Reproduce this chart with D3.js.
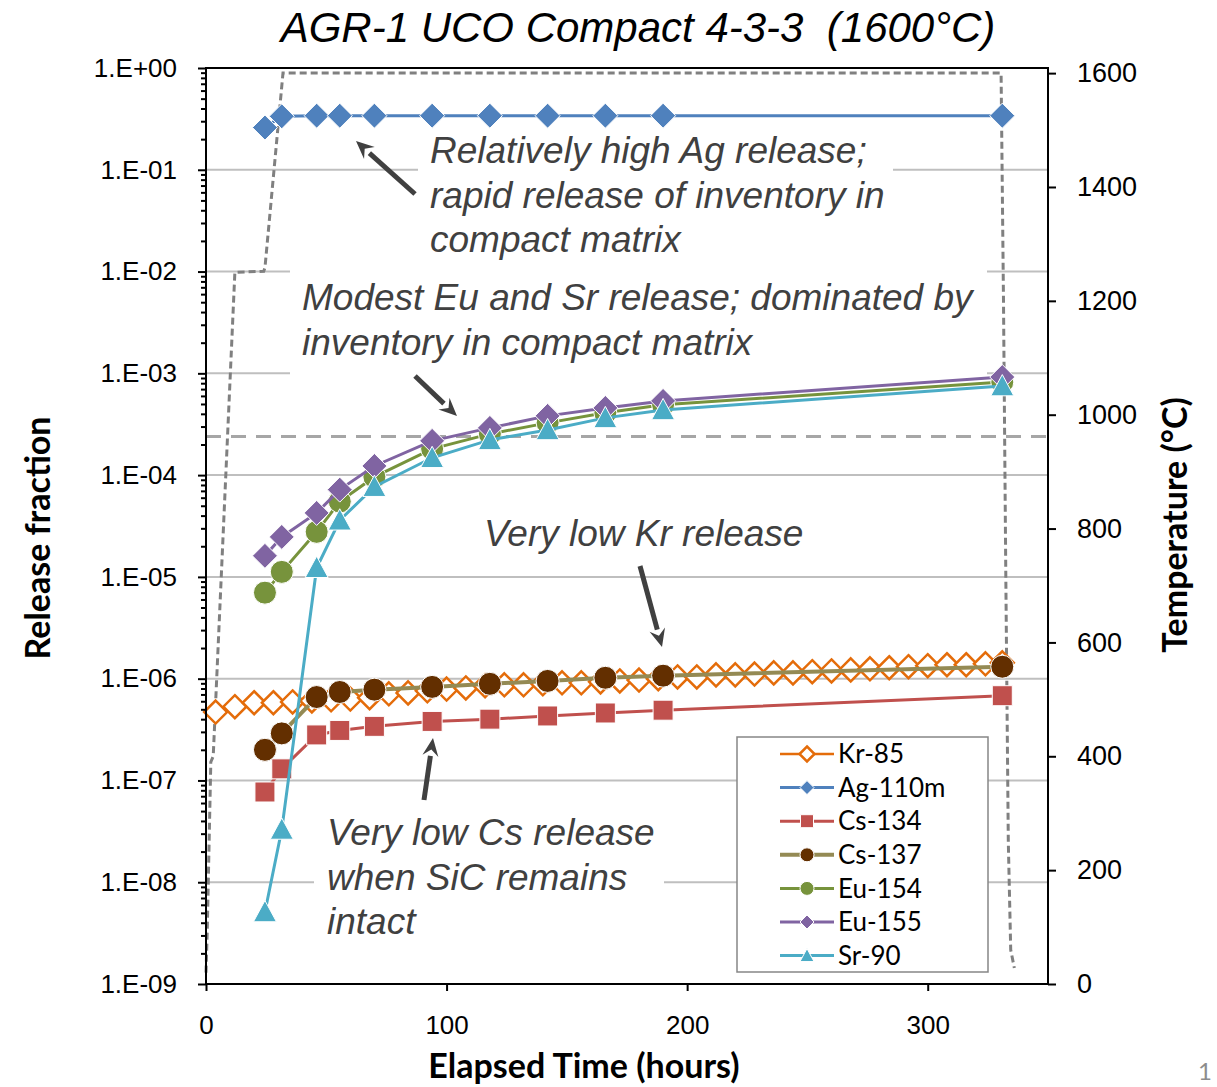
<!DOCTYPE html>
<html>
<head>
<meta charset="utf-8">
<script src="https://cdn.jsdelivr.net/npm/d3@7"></script>
<style>
  html, body { margin: 0; padding: 0; background: #fff; }
  svg { display: block; }
</style>
</head>
<body>
<div id="chart"></div>
<script>
// ---- data ----
const sampleHours = [24.5, 31.5, 46, 55.6, 70, 94, 118, 142, 166, 190, 331];
const ag110m = [0.26, 0.335, 0.34, 0.34, 0.34, 0.34, 0.34, 0.34, 0.34, 0.34, 0.34];
const cs134 = [7.7e-8, 1.3e-7, 2.8e-7, 3.1e-7, 3.4e-7, 3.8e-7, 4.0e-7, 4.3e-7, 4.6e-7, 4.9e-7, 6.8e-7];
const cs137 = [2.0e-7, 2.9e-7, 6.6e-7, 7.4e-7, 7.8e-7, 8.3e-7, 8.9e-7, 9.5e-7, 1.02e-6, 1.07e-6, 1.31e-6];
const eu154 = [7.0e-6, 1.12e-5, 2.77e-5, 5.5e-5, 9.6e-5, 1.81e-4, 2.54e-4, 3.26e-4, 4.09e-4, 4.9e-4, 8.2e-4];
const eu155 = [1.61e-5, 2.47e-5, 4.25e-5, 7.2e-5, 1.23e-4, 2.17e-4, 2.91e-4, 3.82e-4, 4.57e-4, 5.36e-4, 9.2e-4];
const sr90 = [5.1e-9, 3.3e-8, 1.23e-5, 3.6e-5, 7.7e-5, 1.48e-4, 2.22e-4, 2.78e-4, 3.65e-4, 4.37e-4, 7.5e-4];

const krHours = [4, 12, 20, 28, 36, 44, 52, 60, 68, 76, 84, 92, 100, 108, 116, 124, 132, 140, 148, 156,
  164, 172, 180, 188, 196, 204, 212, 220, 228, 236, 244, 252, 260, 268, 276, 284, 292, 300, 308, 316, 324, 331];
const kr85 = [4.7e-7, 5.3e-7, 5.8e-7, 5.8e-7, 5.9e-7, 6.05e-7, 6.2e-7, 6.3e-7, 6.5e-7, 7.1e-7, 7.25e-7, 7.6e-7,
  7.9e-7, 8.1e-7, 8.5e-7, 8.7e-7, 8.7e-7, 8.9e-7, 9.1e-7, 9.1e-7, 9.3e-7, 9.5e-7, 9.7e-7, 1.0e-6, 1.04e-6,
  1.04e-6, 1.09e-6, 1.09e-6, 1.11e-6, 1.14e-6, 1.14e-6, 1.17e-6, 1.19e-6, 1.22e-6, 1.25e-6, 1.28e-6, 1.31e-6,
  1.34e-6, 1.37e-6, 1.37e-6, 1.4e-6, 1.43e-6];

const tempHours = [0, 0.5, 2, 3, 12, 24, 24.5, 32, 330.5, 331.5, 332.5, 333.5, 334.5, 336];
const tempC = [20, 90, 390, 400, 1250, 1252, 1258, 1600, 1600, 1200, 700, 250, 60, 28];

const refFraction = 2.4e-4;

const leftTicks = [1, 1e-1, 1e-2, 1e-3, 1e-4, 1e-5, 1e-6, 1e-7, 1e-8, 1e-9];
const leftTickLabels = ['1.E+00', '1.E-01', '1.E-02', '1.E-03', '1.E-04', '1.E-05', '1.E-06', '1.E-07', '1.E-08', '1.E-09'];
const rightTicks = [0, 200, 400, 600, 800, 1000, 1200, 1400, 1600];
const bottomTicks = [0, 100, 200, 300];

// ---- layout ----
const W = 1217, H = 1087;
const plot = { left: 206, right: 1048, top: 68, bottom: 984 };
const armFont = '"Liberation Sans", Arial, sans-serif';
const calFont = 'Lato, "Open Sans", sans-serif';

const svg = d3.select('#chart').append('svg').attr('width', W).attr('height', H);

const x = d3.scaleLinear().domain([0, 350]).range([plot.left, plot.right]);
const y = d3.scaleLog().domain([1e-9, 1]).range([plot.bottom, plot.top]);
const yT = d3.scaleLinear().domain([0, 1609]).range([plot.bottom, plot.top]);

// gridlines at each decade
svg.append('g')
  .selectAll('line')
  .data(leftTicks.slice(1, -1))
  .join('line')
  .attr('x1', plot.left).attr('x2', plot.right)
  .attr('y1', d => y(d)).attr('y2', d => y(d))
  .attr('stroke', '#BFBFBF').attr('stroke-width', 2);

// white text boxes (they hide gridlines like in the slide)
const boxes = [
  [418, 128, 475, 137],
  [290, 266, 697, 112],
  [476, 508, 334, 52],
  [314, 808, 350, 142]
];
svg.append('g').selectAll('rect').data(boxes).join('rect')
  .attr('x', d => d[0]).attr('y', d => d[1]).attr('width', d => d[2]).attr('height', d => d[3])
  .attr('fill', '#fff');

// reference dashed line
svg.append('line')
  .attr('x1', plot.left).attr('x2', plot.right)
  .attr('y1', y(refFraction)).attr('y2', y(refFraction))
  .attr('stroke', '#A6A6A6').attr('stroke-width', 3).attr('stroke-dasharray', '15,10');

// temperature trace
const tempLine = d3.line().x(d => x(d[0])).y(d => yT(d[1]));
svg.append('path')
  .datum(tempHours.map((t, i) => [t, tempC[i]]))
  .attr('d', tempLine)
  .attr('fill', 'none').attr('stroke', '#808080').attr('stroke-width', 3)
  .attr('stroke-dasharray', '7,4');

// marker shapes
function markerPath(shape, s) {
  const r = s / 2;
  if (shape === 'diamond') return `M0,${-r}L${r},0L0,${r}L${-r},0Z`;
  if (shape === 'square') return `M${-r},${-r}H${r}V${r}H${-r}Z`;
  if (shape === 'triangle') return `M0,${-r}L${r},${r * 0.85}L${-r},${r * 0.85}Z`;
  return d3.symbol(d3.symbolCircle, Math.PI * r * r)();
}

const series = [
  { name: 'Kr-85', t: krHours, v: kr85, line: '#E46C0A', fill: '#fff', stroke: '#E46C0A', sw: 2.5, shape: 'diamond', size: 23, lw: 2.5, lsize: 15 },
  { name: 'Ag-110m', t: sampleHours, v: ag110m, line: '#4F81BD', fill: '#4F81BD', stroke: '#fff', sw: 1, shape: 'diamond', size: 25, lw: 3, lsize: 14 },
  { name: 'Cs-134', t: sampleHours, v: cs134, line: '#C0504D', fill: '#C0504D', stroke: '#fff', sw: 1, shape: 'square', size: 20, lw: 3, lsize: 13 },
  { name: 'Cs-137', t: sampleHours, v: cs137, line: '#948A54', fill: '#632F00', stroke: '#fff', sw: 1, shape: 'circle', size: 23, lw: 4, lsize: 14 },
  { name: 'Eu-154', t: sampleHours, v: eu154, line: '#77933C', fill: '#77933C', stroke: '#fff', sw: 1, shape: 'circle', size: 23, lw: 3, lsize: 14 },
  { name: 'Eu-155', t: sampleHours, v: eu155, line: '#8064A2', fill: '#8064A2', stroke: '#fff', sw: 1, shape: 'diamond', size: 25, lw: 3, lsize: 14 },
  { name: 'Sr-90', t: sampleHours, v: sr90, line: '#4BACC6', fill: '#4BACC6', stroke: '#fff', sw: 1, shape: 'triangle', size: 23, lw: 3, lsize: 14 }
];

const valueLine = d3.line().x(d => x(d[0])).y(d => y(d[1]));
series.forEach(s => {
  const pts = s.t.map((t, i) => [t, s.v[i]]);
  const g = svg.append('g').attr('class', 'series');
  g.append('path').datum(pts).attr('d', valueLine)
    .attr('fill', 'none').attr('stroke', s.line).attr('stroke-width', s.lw);
  g.selectAll('path.m').data(pts).join('path').attr('class', 'm')
    .attr('transform', d => `translate(${x(d[0])},${y(d[1])})`)
    .attr('d', markerPath(s.shape, s.size))
    .attr('fill', s.fill).attr('stroke', s.stroke).attr('stroke-width', s.sw);
});

// plot frame
svg.append('rect')
  .attr('x', plot.left).attr('y', plot.top)
  .attr('width', plot.right - plot.left).attr('height', plot.bottom - plot.top)
  .attr('fill', 'none').attr('stroke', '#000').attr('stroke-width', 2);

// axes
function styleAxis(g, size = 26) {
  g.select('.domain').remove();
  g.selectAll('.tick line').attr('stroke', '#000').attr('stroke-width', 2);
  g.selectAll('text').attr('font-family', armFont).attr('font-size', size).attr('fill', '#000');
}

const minorTicks = [];
for (let e = -9; e < 0; e++) for (let m = 2; m <= 9; m++) minorTicks.push(m * Math.pow(10, e));

svg.append('g').attr('transform', `translate(${plot.left},0)`)
  .call(d3.axisLeft(y).tickValues(minorTicks).tickSize(5).tickFormat(''))
  .call(styleAxis);
svg.append('g').attr('transform', `translate(${plot.left},0)`)
  .call(d3.axisLeft(y).tickValues(leftTicks).tickSize(8).tickPadding(21)
    .tickFormat((d, i) => leftTickLabels[i]))
  .call(styleAxis);
svg.append('g').attr('transform', `translate(${plot.right},0)`)
  .call(d3.axisRight(yT).tickValues(rightTicks).tickSize(8).tickPadding(21).tickFormat(d3.format('d')))
  .call(g => styleAxis(g, 27));
svg.append('g').attr('transform', `translate(0,${plot.bottom})`)
  .call(d3.axisBottom(x).tickValues(bottomTicks).tickSize(7).tickPadding(25))
  .call(styleAxis);

// titles
svg.append('text').attr('x', 638).attr('y', 42).attr('text-anchor', 'middle')
  .attr('font-family', armFont).attr('font-style', 'italic').attr('font-size', 42)
  .style('white-space', 'pre')
  .text('AGR-1 UCO Compact 4-3-3  (1600°C)');

svg.append('text').attr('x', 584).attr('y', 1078).attr('text-anchor', 'middle')
  .attr('font-family', calFont).attr('font-weight', 'bold').attr('font-size', 34)
  .text('Elapsed Time (hours)');

svg.append('text').attr('transform', 'translate(50,538) rotate(-90)').attr('text-anchor', 'middle')
  .attr('font-family', calFont).attr('font-weight', 'bold').attr('font-size', 34)
  .text('Release fraction');

svg.append('text').attr('transform', 'translate(1187,525) rotate(-90)').attr('text-anchor', 'middle')
  .attr('font-family', calFont).attr('font-weight', 'bold').attr('font-size', 34)
  .text('Temperature (°C)');

// annotations
const notes = [
  { x: 430, y: 163, lines: ['Relatively high Ag release;', 'rapid release of inventory in', 'compact matrix'] },
  { x: 302, y: 310, lines: ['Modest Eu and Sr release; dominated by', 'inventory in compact matrix'] },
  { x: 484, y: 546, lines: ['Very low Kr release'] },
  { x: 327, y: 845, lines: ['Very low Cs release', 'when SiC remains', 'intact'] }
];
notes.forEach(n => {
  const t = svg.append('text').attr('font-family', armFont).attr('font-style', 'italic')
    .attr('font-size', 37).attr('fill', '#404040');
  n.lines.forEach((l, i) => t.append('tspan').attr('x', n.x).attr('y', n.y + i * 44.5).text(l));
});

// arrows
const arrows = [
  [415, 194, 356, 141],
  [415, 376, 457, 416],
  [640, 566, 662, 647],
  [424, 800, 433, 738]
];
arrows.forEach(([x1, y1, x2, y2]) => {
  const ang = Math.atan2(y2 - y1, x2 - x1);
  const hl = 18, hw = 8;
  const bx = x2 - hl * Math.cos(ang), by = y2 - hl * Math.sin(ang);
  svg.append('line').attr('x1', x1).attr('y1', y1).attr('x2', bx).attr('y2', by)
    .attr('stroke', '#404040').attr('stroke-width', 5);
  const px = -Math.sin(ang) * hw, py = Math.cos(ang) * hw;
  svg.append('path')
    .attr('d', `M${x2},${y2}L${bx + px},${by + py}L${bx + 0.35 * (x2 - bx)},${by + 0.35 * (y2 - by)}L${bx - px},${by - py}Z`)
    .attr('fill', '#404040');
});

// legend
const lg = svg.append('g').attr('transform', 'translate(737,737)');
lg.append('rect').attr('width', 251).attr('height', 235)
  .attr('fill', '#fff').attr('stroke', '#868686').attr('stroke-width', 1.5);
series.forEach((s, i) => {
  const row = lg.append('g').attr('transform', `translate(0,${17 + i * 33.6})`);
  row.append('line').attr('x1', 43).attr('x2', 97).attr('stroke', s.line).attr('stroke-width', s.lw);
  row.append('path').attr('transform', 'translate(70,0)')
    .attr('d', markerPath(s.shape, s.lsize))
    .attr('fill', s.fill).attr('stroke', s.stroke).attr('stroke-width', s.sw);
  row.append('text').attr('x', 101).attr('dy', '0.35em')
    .attr('font-family', calFont).attr('font-size', 26).text(s.name);
});

// slide number
svg.append('text').attr('x', 1198).attr('y', 1080)
  .attr('font-family', calFont).attr('font-size', 24).attr('fill', '#8C8C8C').text('1');
</script>
</body>
</html>
